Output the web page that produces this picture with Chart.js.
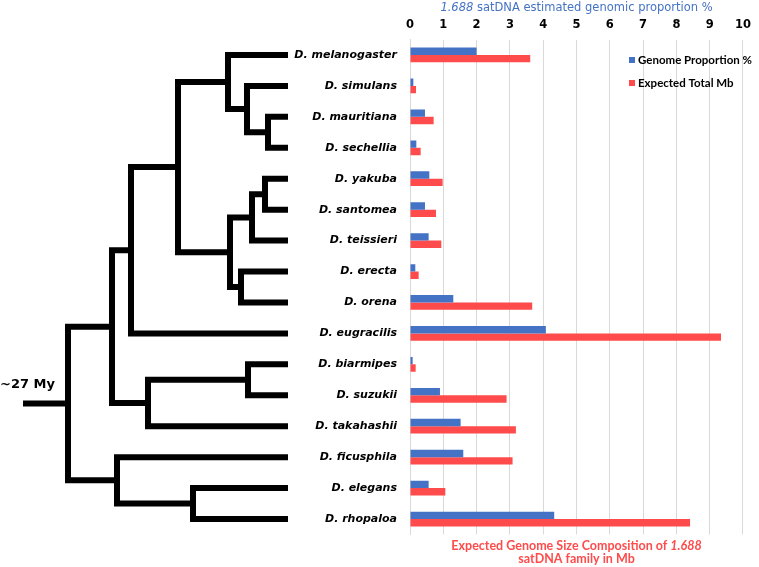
<!DOCTYPE html>
<html>
<head>
<meta charset="utf-8">
<script src="https://cdn.jsdelivr.net/npm/chart.js@4.4.1/dist/chart.umd.min.js"></script>
<style>
  body { margin: 0; background: #fff; }
  #wrap { width: 759px; height: 567px; }
</style>
</head>
<body>
<div id="wrap"><canvas id="myBarChart" width="759" height="567"></canvas></div>
<script>
// species, top to bottom
const species = ["D. melanogaster", "D. simulans", "D. mauritiana", "D. sechellia",
  "D. yakuba", "D. santomea", "D. teissieri", "D. erecta", "D. orena", "D. eugracilis",
  "D. biarmipes", "D. suzukii", "D. takahashii", "D. ficusphila", "D. elegans", "D. rhopaloa"];
// 1.688 satDNA genomic proportion (%)
const genomeProportion = [2.0, 0.1, 0.45, 0.19, 0.58, 0.45, 0.56, 0.16, 1.30, 4.08, 0.08, 0.90, 1.52, 1.60, 0.56, 4.33];
// expected total (Mb)
const expectedMb = [3.61, 0.18, 0.71, 0.32, 0.98, 0.78, 0.94, 0.26, 3.67, 9.34, 0.17, 2.90, 3.18, 3.08, 1.06, 8.41];
const xTicks = [0, 1, 2, 3, 4, 5, 6, 7, 8, 9, 10];

const FONT = "'DejaVu Sans', sans-serif";
const FONT2 = "Lato, sans-serif";
const BLUE = "#4472C4";
const RED = "#FF4B4B";

// tree topology: leaves are species indexes, x = node depth in px
const tree = {x: 68, c: [
  {x: 112, c: [
    {x: 131, c: [
      {x: 178, c: [
        {x: 228, c: [0, {x: 247, c: [1, {x: 268, c: [2, 3]}]}]},
        {x: 230, c: [{x: 252, c: [{x: 265, c: [4, 5]}, 6]}, {x: 241, c: [7, 8]}]}
      ]},
      9
    ]},
    {x: 148, c: [{x: 248, c: [10, 11]}, 12]}
  ]},
  {x: 117, c: [13, {x: 193, c: [14, 15]}]}
]};
const LEAF_X = 288;
const ROOT_X = 23;

function drawTree(g, yScale, node) {
  // returns y of this node
  if (typeof node === "number") return yScale.getPixelForValue(node);
  const ys = node.c.map(ch => drawTree(g, yScale, ch));
  const lw = g.lineWidth / 2;
  g.beginPath();
  g.moveTo(node.x, Math.min(...ys) - lw);
  g.lineTo(node.x, Math.max(...ys) + lw);
  node.c.forEach((ch, i) => {
    g.moveTo(node.x, ys[i]);
    g.lineTo(typeof ch === "number" ? LEAF_X : ch.x, ys[i]);
  });
  g.stroke();
  return (Math.min(...ys) + Math.max(...ys)) / 2;
}

const decor = {
  id: "decor",
  afterDraw(chart) {
    const g = chart.ctx;
    const area = chart.chartArea;
    const cx = (area.left + area.right) / 2;
    g.save();

    // phylogeny
    g.strokeStyle = "#000";
    g.lineWidth = 6;
    g.lineCap = "butt";
    const rootY = drawTree(g, chart.scales.y, tree);
    g.beginPath();
    g.moveTo(ROOT_X, rootY);
    g.lineTo(tree.x, rootY);
    g.stroke();

    g.fillStyle = "#000";
    g.font = "bold 13px " + FONT;
    g.textBaseline = "alphabetic";
    g.textAlign = "left";
    g.fillText("~27 My", 0, rootY - 15);

    // mixed-style titles
    function mixed(parts, x, y, color) {
      g.fillStyle = color;
      g.textBaseline = "middle";
      g.textAlign = "left";
      let w = 0;
      parts.forEach(p => { g.font = p[1]; w += g.measureText(p[0]).width; });
      let px = x - w / 2;
      parts.forEach(p => { g.font = p[1]; g.fillText(p[0], px, y); px += g.measureText(p[0]).width; });
    }
    mixed([["1.688", "italic 11.5px " + FONT], [" satDNA estimated genomic proportion %", "11.5px " + FONT]], cx, 8, BLUE);
    mixed([["Expected Genome Size Composition of ", "bold 12.5px " + FONT2], ["1.688", "italic bold 12.5px " + FONT2]], cx, 546, RED);
    mixed([["satDNA family in Mb", "bold 12.5px " + FONT2]], cx, 559, RED);

    // legend
    g.font = "bold 11.5px " + FONT2;
    g.textBaseline = "middle";
    g.textAlign = "left";
    chart.data.datasets.forEach((ds, i) => {
      const y = 60 + i * 23;
      g.fillStyle = ds.backgroundColor;
      g.fillRect(629, y - 3, 6, 6);
      g.fillStyle = "#000";
      g.fillText(ds.label, 638, y);
    });
    g.restore();
  }
};

var ctx = document.getElementById("myBarChart");
var myBarChart = new Chart(ctx, {
  type: 'bar',
  data: {
    labels: species,
    datasets: [
      { label: "Genome Proportion %", data: genomeProportion, backgroundColor: BLUE },
      { label: "Expected Total Mb", data: expectedMb, backgroundColor: RED }
    ]
  },
  options: {
    indexAxis: 'y',
    responsive: false,
    animation: false,
    layout: { padding: { left: 0, right: 7, top: 0, bottom: 32.5 } },
    datasets: { bar: { categoryPercentage: 0.475, barPercentage: 1 } },
    scales: {
      x: {
        position: 'top',
        min: 0, max: 10,
        afterBuildTicks(s) { s.ticks = xTicks.map(v => ({ value: v })); },
        afterFit(s) { s.height = 39.5; },
        ticks: { color: "#000", padding: 8, font: { family: FONT, size: 11.5, weight: 'bold' } },
        grid: { color: "#D9D9D9", drawTicks: false },
        border: { display: false }
      },
      y: {
        afterFit(s) { s.width = 410; },
        ticks: { color: "#000", padding: 13, font: { family: FONT, size: 11, weight: 'bold', style: 'italic' } },
        grid: { display: false, drawTicks: false },
        border: { color: "#D9D9D9" }
      }
    },
    plugins: {
      legend: { display: false },
      tooltip: { enabled: false }
    }
  },
  plugins: [decor]
});
</script>
</body>
</html>
